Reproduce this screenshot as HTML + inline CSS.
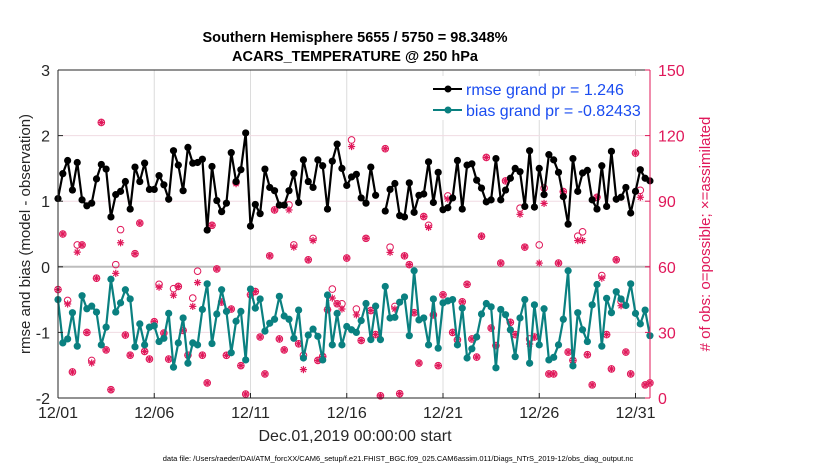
<!DOCTYPE html>
<html><head><meta charset="utf-8"><style>
body{margin:0;background:#fff;width:830px;height:470px;overflow:hidden;font-family:"Liberation Sans",sans-serif}
</style></head><body>
<svg id="chart" width="830" height="470" xmlns="http://www.w3.org/2000/svg" font-family="Liberation Sans, sans-serif"></svg>
<script>
const rmse=[1.04,1.42,1.62,1.17,1.59,1.02,0.93,0.97,1.34,1.56,1.49,0.76,1.10,1.15,1.30,0.88,1.52,1.30,1.58,1.18,1.18,1.39,1.25,1.03,1.77,1.55,1.16,1.82,1.58,1.59,1.64,
0.56,1.53,1.01,0.84,0.97,1.74,1.30,1.48,2.04,0.62,0.95,0.81,1.49,1.21,1.16,0.94,0.94,1.16,1.42,0.98,1.63,1.30,1.21,1.63,1.54,0.88,1.61,1.87,1.50,1.24,1.37,
1.41,1.05,0.97,1.52,1.09,null,0.85,1.18,1.27,0.78,0.76,1.28,0.83,1.09,1.11,1.60,0.98,1.44,0.87,0.90,1.05,1.62,0.88,1.55,1.57,1.32,1.20,0.99,1.02,1.65,1.02,
1.17,1.35,1.50,1.45,0.92,1.77,0.91,1.50,1.10,1.71,1.63,1.44,1.07,0.65,1.65,1.15,1.43,1.47,1.02,0.88,1.54,0.92,1.76,1.03,1.06,1.21,0.82,1.15,1.48,1.35,1.31];
const bias=[-0.50,-1.16,-1.10,-0.70,-1.21,-0.44,-0.64,-0.60,-0.69,-1.19,-0.92,-0.19,-0.69,-0.55,-0.35,-0.49,-1.22,-0.87,-1.19,-0.92,-0.90,-1.14,-1.09,-0.71,-1.53,-1.16,-0.78,-1.47,-1.16,-1.19,-0.65,
-0.26,-1.17,-0.72,-0.35,-0.68,-1.31,-0.83,-0.68,-1.42,-0.34,-0.63,-0.49,-0.98,-0.86,-0.80,-0.45,-0.75,-0.80,-1.09,-0.66,-1.39,-1.04,-0.95,-1.06,-1.42,-0.43,-1.19,-0.71,-1.19,-0.91,-0.96,
-1.00,-0.82,-0.56,-1.11,-0.60,-1.11,-0.30,-0.78,-0.77,-0.54,-0.46,-1.05,-0.06,-0.81,-0.78,-1.19,-0.49,-1.24,-0.55,-0.52,-0.50,-1.19,-0.63,-1.39,-1.25,-1.07,-0.72,-0.56,-0.61,-1.54,-0.65,
-0.73,-0.96,-1.37,-0.78,-0.50,-1.47,-0.58,-1.19,-0.64,-1.42,-1.38,-1.19,-0.80,-0.06,-1.51,-0.70,-0.96,-1.14,-0.58,-0.27,-1.21,-0.48,-0.70,-0.38,-0.49,-0.59,-0.26,-0.71,-0.87,-0.66,-1.05];
const nPossible=[49.6,75,44.6,11.9,70,70,30,17.2,54.8,126,22,3.8,61,77,28.8,19.6,66,80,21.3,17.8,34.9,52,29.7,17.8,50,51,30.9,19.6,45.7,58,19.6,
6.9,79,59,43.9,19.5,40.7,98.7,14.8,1.8,47.2,48.7,27.9,11,65,86,27,22,88.3,70,24.8,19.5,63.2,73,17.2,19,40.4,49.8,43.1,43.1,64,118,
40.7,26.3,73,40,29,1,114,69,41.9,2,65,61,39,16,83,79,38,14.8,47.2,92.4,30,26.6,44,52,27,18.7,74,110,32,24,61.7,
99.3,34.6,29,86.8,69,27,27.9,70,96,11,11,61.7,94.4,21,17.2,74,76,19.8,6,91.8,56,29,13.3,63.2,44.1,21,11,112,95,6,6.9];
const nAssim=[49.6,75,43,11.9,66.7,70,30,16,54.8,126,22,3.8,57,71,28.8,19.6,66,80,21.3,17.8,34.9,50.7,29.7,17.8,47,51,30.9,19.6,41.9,52.8,19.6,
6.9,79,59,43.9,19.5,40.7,98,14.8,1.8,47.2,48.7,27.9,11,65,86,27,22,86,69,24.8,13,63.2,72,17.2,19,40.4,45.7,43.1,40.7,64,115,
38,26.3,73,40,29,1,114,66.6,40.7,2,65,61,39,16,83,78,38,14.8,47.2,91,30,26.6,44,52,27,18.7,74,110,32,24,61.7,
99.3,34.6,29,84,69,24.7,27.9,61.7,89,11,11,61.7,94.4,21,17.2,72,72,19.8,6,91.8,54.8,29,13.3,63.2,42.2,21,11,112,91.8,6,6.9];
const xTickLabels=["12/01","12/06","12/11","12/16","12/21","12/26","12/31"];
const yTickLabels=[3,2,1,0,-1,-2];
const rTickLabels=[150,120,90,60,30,0];

const NS="http://www.w3.org/2000/svg";
const svg=document.getElementById('chart');
const L=58,R=650,T=70,B=398,dayW=19.25;
const X=i=>L+i*dayW/4;
const Y=v=>T+(3-v)*(B-T)/5;
const YR=v=>B-v*(B-T)/150;
function el(tag,attrs,parent){const e=document.createElementNS(NS,tag);for(const k in attrs)e.setAttribute(k,attrs[k]);(parent||svg).appendChild(e);return e;}
function txt(s,attrs,parent){const e=el('text',attrs,parent);e.textContent=s;return e;}

// grid
const grid=el('g',{});


xTickLabels.forEach((t,k)=>{const x=L+k*5*dayW;el('line',{x1:x,x2:x,y1:T,y2:B,stroke:'#dcdcdc','stroke-width':1},grid);});
yTickLabels.forEach(v=>{if(v!==0&&v!==3&&v!==-2)el('line',{x1:L,x2:R,y1:Y(v),y2:Y(v),stroke:'#f0dbe3','stroke-width':1},grid);});
el('line',{x1:L,x2:R,y1:Y(0),y2:Y(0),stroke:'#bdbdbd','stroke-width':2},grid);

// obs markers
const obs=el('g',{});


const pink='#e0185a';
function star(x,y,g){const r=3.6;for(let a=0;a<4;a++){const t=a*Math.PI/4;el('line',{x1:x-r*Math.cos(t),y1:y-r*Math.sin(t),x2:x+r*Math.cos(t),y2:y+r*Math.sin(t),stroke:pink,'stroke-width':1.2},g);}}
nPossible.forEach((v,i)=>{const x=X(i);
 const c=el('circle',{cx:x,cy:YR(v),r:3.3,fill:'none',stroke:pink,'stroke-width':1},obs);
 
 
 star(x,YR(nAssim[i]),obs);});

// series
function series(data,color,name){
 const g=el('g',{});
 
 
 let d='',pen=false;
 data.forEach((v,i)=>{if(v===null){pen=false;return;}d+=(pen?'L':'M')+X(i).toFixed(1)+','+Y(v).toFixed(1);pen=true;});
 el('path',{d:d,fill:'none',stroke:color,'stroke-width':2.2,'stroke-linejoin':'round'},g);
 data.forEach((v,i)=>{if(v===null)return;const c=el('circle',{cx:X(i),cy:Y(v),r:3.6,fill:color},g);
  
  });
}
series(rmse,'#000000','rmse-line');
series(bias,'#0a8080','bias-line');

// axes
const ax=el('g',{});


el('line',{x1:L,x2:L,y1:T,y2:B,stroke:'#262626','stroke-width':1},ax);
el('line',{x1:L,x2:R,y1:B,y2:B,stroke:'#262626','stroke-width':1},ax);
el('line',{x1:L,x2:R,y1:T,y2:T,stroke:'#262626','stroke-width':1},ax);
el('line',{x1:R,x2:R,y1:T,y2:B,stroke:pink,'stroke-width':1},ax);
yTickLabels.forEach(v=>{el('line',{x1:L,x2:L+5,y1:Y(v),y2:Y(v),stroke:'#262626'},ax);
 const t=txt(String(v),{x:L-8,y:Y(v)+6,'font-size':16,'text-anchor':'end',fill:'#262626'},ax);
 
 });
rTickLabels.forEach(v=>{el('line',{x1:R-5,x2:R,y1:YR(v),y2:YR(v),stroke:pink},ax);
 const t=txt(String(v),{x:R+8,y:YR(v)+6,'font-size':16,fill:pink},ax);
 
 });
xTickLabels.forEach((s,k)=>{const x=L+k*5*dayW;el('line',{x1:x,x2:x,y1:B-5,y2:B,stroke:'#262626'},ax);
 const t=txt(s,{x:x,y:418,'font-size':16,'text-anchor':'middle',fill:'#262626'},ax);
 
 });
</script>
<svg style="position:absolute;left:0;top:0" width="830" height="470" xmlns="http://www.w3.org/2000/svg" font-family="Liberation Sans, sans-serif">
<text x="355" y="42" font-size="14.5" font-weight="bold" text-anchor="middle" fill="#000">Southern Hemisphere 5655 / 5750 = 98.348%</text>
<text x="355" y="61" font-size="14.5" font-weight="bold" text-anchor="middle" fill="#000">ACARS_TEMPERATURE @ 250 hPa</text>
<g>
<rect x="425" y="76" width="222" height="44" fill="#fff"/>
<line x1="433" x2="462" y1="89" y2="89" stroke="#000" stroke-width="2"/><circle cx="448" cy="89" r="3.5" fill="#000"/>
<text x="466" y="95" font-size="16" fill="#1a4cf0">rmse grand pr = 1.246</text>
<line x1="433" x2="462" y1="110" y2="110" stroke="#0a8080" stroke-width="2"/><circle cx="448" cy="110" r="3.5" fill="#0a8080"/>
<text x="466" y="116" font-size="16" fill="#1a4cf0">bias grand pr = -0.82433</text>
</g>
<text transform="translate(30,234) rotate(-90)" font-size="15" text-anchor="middle" fill="#262626">rmse and bias (model - observation)</text>
<text transform="translate(710,234) rotate(-90)" font-size="15" text-anchor="middle" fill="#e0185a"># of obs: o=possible; ×=assimilated</text>
<text x="355" y="441" font-size="16" text-anchor="middle" fill="#262626">Dec.01,2019 00:00:00 start</text>
<text x="398" y="461" font-size="7.5" text-anchor="middle" fill="#000">data file: /Users/raeder/DAI/ATM_forcXX/CAM6_setup/f.e21.FHIST_BGC.f09_025.CAM6assim.011/Diags_NTrS_2019-12/obs_diag_output.nc</text>
</svg>
</body></html>
